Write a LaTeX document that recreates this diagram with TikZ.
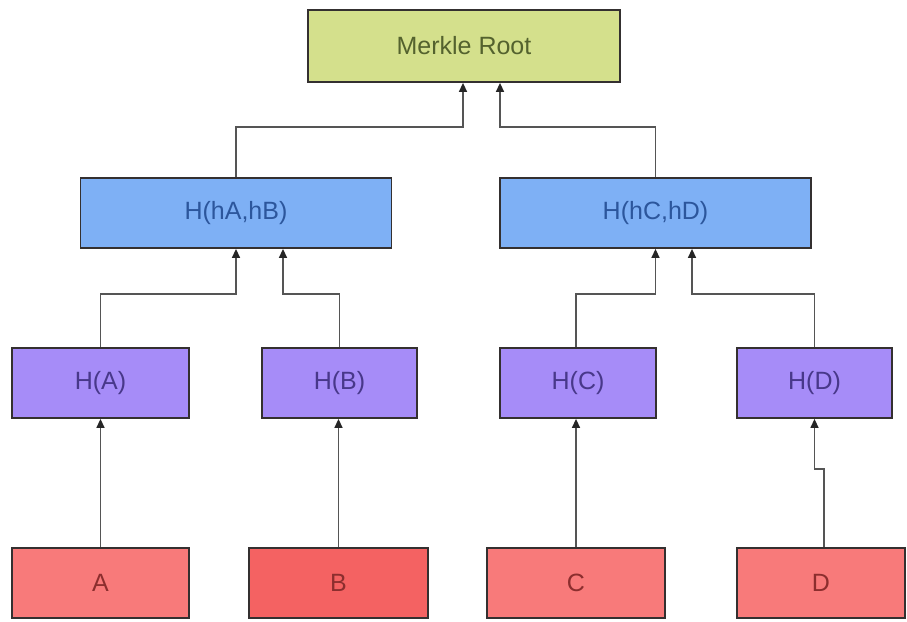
\documentclass[tikz,border=0pt]{standalone}
\usepackage{fontspec}
\setmainfont{Liberation Sans}
\usepackage{tikz}
\usetikzlibrary{arrows.meta,positioning,calc}
\definecolor{rootfill}{RGB}{212,224,140}
\definecolor{roottext}{RGB}{84,98,46}
\definecolor{pairfill}{RGB}{126,176,245}
\definecolor{pairtext}{RGB}{44,86,156}
\definecolor{hashfill}{RGB}{166,140,248}
\definecolor{hashtext}{RGB}{72,56,138}
\definecolor{leaffill}{RGB}{248,122,122}
\definecolor{leafdeep}{RGB}{244,98,98}
\definecolor{leaftext}{RGB}{140,46,46}
\definecolor{edge}{RGB}{52,48,48}
\definecolor{wire}{RGB}{85,85,85}

\begin{document}
\begin{tikzpicture}[x=1pt, y=1pt,
    box/.style={draw=edge, line width=1.8pt, minimum height=70pt, inner sep=0pt,
        font=\fontsize{25}{30}\selectfont},
    rootbox/.style={box, fill=rootfill, text=roottext, minimum width=312pt, minimum height=72pt},
    pairbox/.style={box, fill=pairfill, text=pairtext, minimum width=311pt},
    hashbox/.style={box, fill=hashfill, text=hashtext},
    leafbox/.style={box, fill=leaffill, text=leaftext},
    link/.style={draw=wire, line width=1.4pt, -{Triangle[length=9pt, width=8pt, color=black!85]}}
]
    % Canvas
    \useasboundingbox (0,0) rectangle (907,-621);

    % Root
    \node[rootbox] (root) at (464,-46) {Merkle Root};

    % Pair hashes
    \node[pairbox] (hab) at (236,-213) {H(hA,hB)};
    \node[pairbox] (hcd) at (655.5,-213) {H(hC,hD)};

    % Leaf hashes
    \node[hashbox, minimum width=177pt] (ha) at (100.5,-383) {H(A)};
    \node[hashbox, minimum width=155pt] (hb) at (339.5,-383) {H(B)};
    \node[hashbox, minimum width=156pt] (hc) at (578,-383) {H(C)};
    \node[hashbox, minimum width=155pt] (hd) at (814.5,-383) {H(D)};

    % Data blocks
    \node[leafbox, minimum width=177pt] (a) at (100.5,-583) {A};
    \node[leafbox, fill=leafdeep, minimum width=179pt] (b) at (338.5,-583) {B};
    \node[leafbox, minimum width=178pt] (c) at (576,-583) {C};
    \node[leafbox, minimum width=168pt] (d) at (821,-583) {D};

    % Pairs to root
    \draw[link] (hab.north) -- ++(0,50) -| ([xshift=-1pt]root.south);
    \draw[link] (hcd.north) -- ++(0,50) -| ([xshift=36pt]root.south);

    % Leaf hashes to pairs
    \draw[link] (ha.north) -- ++(0,53) -| (hab.south);
    \draw[link] (hb.north) -- ++(0,53) -| ([xshift=47pt]hab.south);
    \draw[link] ([xshift=-2pt]hc.north) -- ++(0,53) -| (hcd.south);
    \draw[link] (hd.north) -- ++(0,53) -| ([xshift=36.5pt]hcd.south);

    % Data to leaf hashes
    \draw[link] (a.north) -- (a.north |- ha.south);
    \draw[link] (b.north) -- (b.north |- hb.south);
    \draw[link] (c.north) -- (c.north |- hc.south);
    \coordinate (dbend) at ([xshift=3pt]d.north);
    \draw[link] (dbend) -- ++(0,78) -| (hd.south);
\end{tikzpicture}
\end{document}
